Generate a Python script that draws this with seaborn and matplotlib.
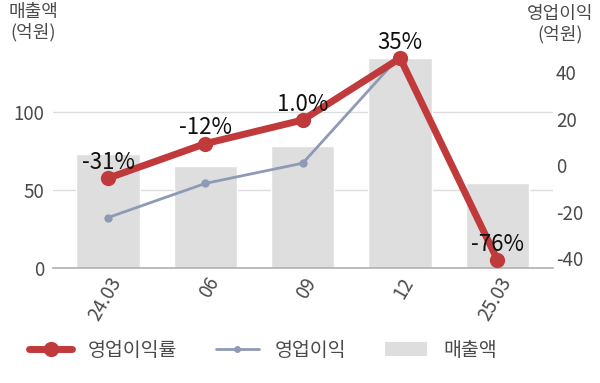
import numpy as np
import pandas as pd
import matplotlib
matplotlib.use("Agg")
import matplotlib.pyplot as plt
from matplotlib.lines import Line2D
from matplotlib.patches import Patch
import seaborn as sns

# Quarterly figures
periods = ["24.03", "06", "09", "12", "25.03"]
revenue = [73.0, 65.5, 78.0, 134.5, 54.5]          # 매출액 (억원)
op_profit = [-22.6, -7.9, 0.8, 47.1, -41.4]        # 영업이익 (억원)
op_margin = [-31, -12, 1.0, 35, -76]                # 영업이익률 (%)
margin_labels = ["-31%", "-12%", "1.0%", "35%", "-76%"]

sns.set_theme(style="white")
plt.rcParams["font.family"] = ["Noto Sans CJK KR", "DejaVu Sans"]
plt.rcParams["axes.unicode_minus"] = False

RED = "#c0393b"
SLATE = "#8e9ab6"
BAR = "#dedede"
GRID = "#dcdcdc"
TXT = "#4a4a4a"

df = pd.DataFrame({"period": periods, "revenue": revenue,
                   "op_profit": op_profit, "op_margin": op_margin,
                   "pos": np.arange(len(periods))})

fig = plt.figure(figsize=(6.0, 3.83), dpi=100)
W, H = 600, 383
x0, x1, ytop, ybot = 53, 553, 40, 268
ax = fig.add_axes([x0 / W, 1 - ybot / H, (x1 - x0) / W, (ybot - ytop) / H])

sns.barplot(data=df, x="period", y="revenue", color=BAR, width=0.65,
            saturation=1, ax=ax, zorder=1)
ax.set_xlim(-0.565, 4.57)
ax.set_ylim(0, 146)
ax.set_yticks([0, 50, 100])
ax.yaxis.grid(True, color=GRID, linewidth=1)
ax.set_axisbelow(True)
for s in ["top", "left", "right"]:
    ax.spines[s].set_visible(False)
ax.spines["bottom"].set_color("#b0b0b0")
ax.spines["bottom"].set_linewidth(1.2)
ax.set_xlabel("")
ax.set_ylabel("")
ax.tick_params(axis="y", length=0, labelsize=13.5, labelcolor=TXT, pad=6)
ax.tick_params(axis="x", length=0, labelsize=13.5, labelcolor=TXT, pad=4)
for lab in ax.get_xticklabels():
    lab.set_rotation(60)
    lab.set_ha("right")
    lab.set_rotation_mode("anchor")

# Operating profit on the right axis
ax2 = ax.twinx()
sns.lineplot(data=df, x="pos", y="op_profit", color=SLATE, linewidth=2,
             marker="o", markersize=6, markeredgewidth=0, ax=ax2)
ax2.set_ylim(-44.3, 53.8)
ax2.set_yticks([-40, -20, 0, 20, 40])
ax2.set_ylabel("")
ax2.tick_params(axis="y", length=0, labelsize=13.5, labelcolor=TXT, pad=2)
for s in ax2.spines.values():
    s.set_visible(False)

# Operating margin on its own hidden scale
ax3 = ax.twinx()
sns.lineplot(data=df, x="pos", y="op_margin", color=RED, linewidth=5,
             marker="o", markersize=11, markeredgewidth=0, ax=ax3)
ax3.set_ylim(-80.4, 45)
ax3.set_yticks([])
ax3.set_ylabel("")
for s in ax3.spines.values():
    s.set_visible(False)
for xi, yi, t in zip(df["pos"], op_margin, margin_labels):
    ax3.annotate(t, (xi, yi), xytext=(0, 11.5), textcoords="offset points",
                 ha="center", va="center", fontsize=16, color="#111111")
ax.set_xlim(-0.565, 4.57)

fig.text(33 / W, 1 - 22 / H, "매출액\n(억원)", ha="center", va="center",
         fontsize=13, color=TXT, linespacing=1.15)
fig.text(560 / W, 1 - 24 / H, "영업이익\n(억원)", ha="center", va="center",
         fontsize=13, color=TXT, linespacing=1.15)

handles = [
    Line2D([], [], color=RED, linewidth=5, marker="o", markersize=11,
           markeredgewidth=0),
    Line2D([], [], color=SLATE, linewidth=2, marker="o", markersize=5,
           markeredgewidth=0),
    Patch(facecolor=BAR, edgecolor="none"),
]
fig.legend(handles, ["영업이익률", "영업이익", "매출액"], loc="center",
           bbox_to_anchor=(263 / W, 1 - 350 / H), ncol=3, frameon=False,
           fontsize=14, handlelength=2.2, handletextpad=0.8,
           columnspacing=2.0, labelcolor=TXT)

fig.savefig("out.png", dpi=100)
